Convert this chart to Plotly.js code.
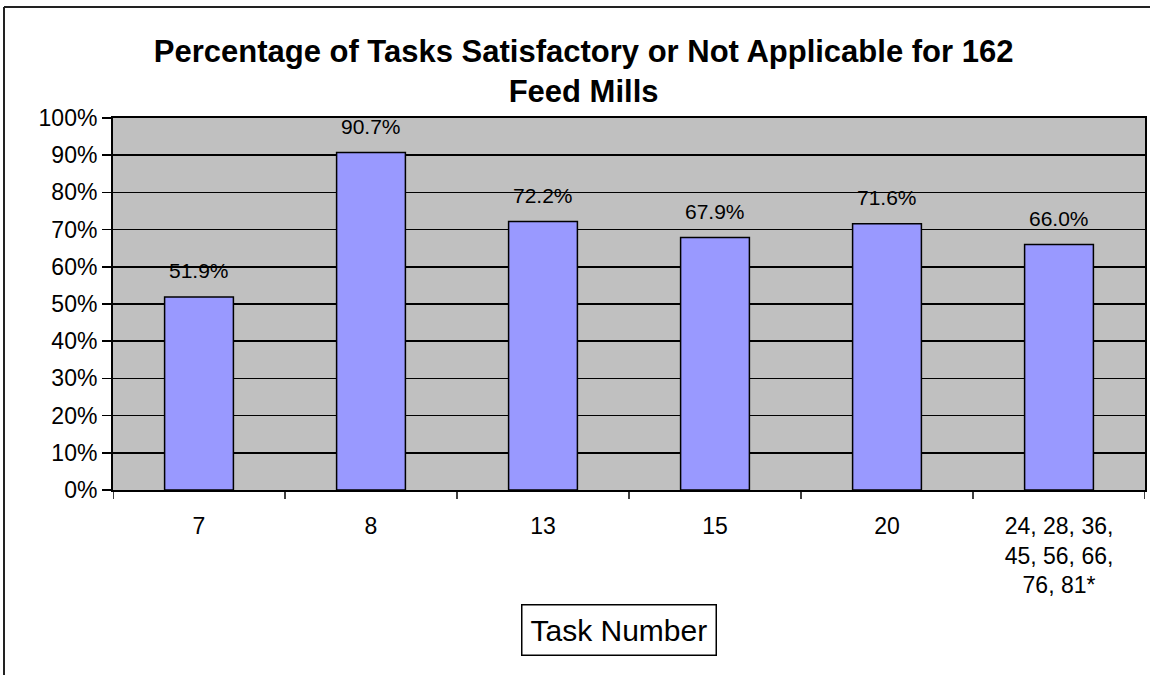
<!DOCTYPE html>
<html>
<head>
<meta charset="utf-8">
<script src="https://cdn.plot.ly/plotly-3.0.1.min.js"></script>
<style>
  html, body { margin: 0; padding: 0; background: #ffffff; }
  #chart { width: 1150px; height: 675px; }
</style>
</head>
<body>
<div id="chart"></div>
<script>
// Task groups on the x axis and the share of mills rated satisfactory / N.A.
const taskLabels = ["7", "8", "13", "15", "20", "24, 28, 36,<br>45, 56, 66,<br>76, 81*"];
const percentSatisfactory = [51.9, 90.7, 72.2, 67.9, 71.6, 66.0];
const yTickValues = [0, 10, 20, 30, 40, 50, 60, 70, 80, 90, 100];
const yTickText = yTickValues.map(v => v + "%");

const W = 1150, H = 675;
const M = { l: 113, r: 5, t: 118, b: 185 };
const plotW = W - M.l - M.r, plotH = H - M.t - M.b;
// pixel -> paper helpers for the outer frame and the axis caption box
const px = x => (x - M.l) / plotW;
const py = y => (H - M.b - y) / plotH;

const font = "Arial, 'Liberation Sans', sans-serif";
const positions = taskLabels.map((_, i) => i);

const barTrace = {
  type: "bar",
  x: positions,
  y: percentSatisfactory,
  marker: { color: "#9999FF", line: { color: "#000000", width: 1.5 } },
  width: 0.4,
  hoverinfo: "y"
};

// value labels floating above each bar
const valueLabels = positions.map(i => ({
  x: i, y: percentSatisfactory[i], xref: "x", yref: "y",
  text: percentSatisfactory[i].toFixed(1) + "%",
  showarrow: false, yanchor: "middle", yshift: 26,
  font: { family: font, size: 21, color: "#000000" }
}));

const layout = {
  width: W, height: H,
  margin: M,
  paper_bgcolor: "#ffffff",
  plot_bgcolor: "#C0C0C0",
  showlegend: false,
  title: {
    text: "<b>Percentage of Tasks Satisfactory or Not Applicable for 162<br>Feed Mills</b>",
    font: { family: font, size: 31, color: "#000000" },
    x: 0.456, xanchor: "center", xref: "paper",
    y: 1 - 62 / H, yanchor: "middle", yref: "container"
  },
  xaxis: {
    type: "linear",
    range: [-0.5, 5.5],
    tickvals: positions, ticktext: taskLabels, tickangle: 0,
    showgrid: false,
    showline: true, linecolor: "#000000", linewidth: 2, mirror: true,
    ticks: "",
    tickfont: { family: font, size: 23, color: "#000000" },
    ticklabelstandoff: 14,
    zeroline: false,
    fixedrange: true
  },
  yaxis: {
    range: [0, 100],
    tickvals: yTickValues, ticktext: yTickText,
    showgrid: true, gridcolor: "#000000", gridwidth: 1.5,
    zeroline: false,
    showline: true, linecolor: "#000000", linewidth: 2, mirror: true,
    ticks: "outside", ticklen: 9, tickwidth: 1.5, tickcolor: "#000000",
    tickfont: { family: font, size: 23, color: "#000000" },
    fixedrange: true
  },
  annotations: valueLabels.concat([{
    xref: "paper", yref: "paper",
    x: px(619), y: py(630), xanchor: "center", yanchor: "middle",
    text: "Task Number", showarrow: false,
    font: { family: font, size: 30, color: "#000000" },
    bordercolor: "#000000", borderwidth: 1.5, borderpad: 8, bgcolor: "#ffffff"
  }]),
  shapes: [
    { type: "line", xref: "paper", yref: "paper", x0: px(4), x1: px(4), y0: py(7), y1: py(690),
      line: { color: "#222222", width: 2 } },
    { type: "line", xref: "paper", yref: "paper", x0: px(4), x1: px(1160), y0: py(7), y1: py(7),
      line: { color: "#222222", width: 2 } }
  ].concat(
    // tick marks at the category boundaries, hanging below the axis
    [-0.5, 0.5, 1.5, 2.5, 3.5, 4.5, 5.5].map(b => ({
      type: "line", xref: "x", yref: "paper", x0: b, x1: b, y0: 0, y1: py(H - M.b + 9),
      line: { color: "#000000", width: 1.5 }
    }))
  )
};

Plotly.newPlot("chart", [barTrace], layout, { displayModeBar: false, staticPlot: true });
</script>
</body>
</html>
